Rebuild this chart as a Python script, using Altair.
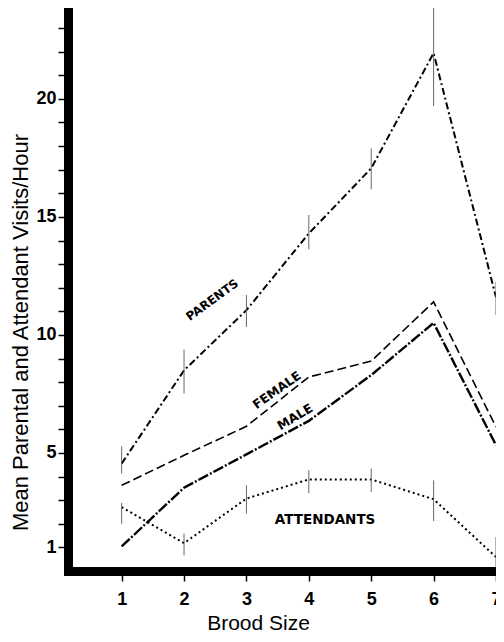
import altair as alt
import pandas as pd

brood = [1, 2, 3, 4, 5, 6, 7]
parents = [4.55, 8.5, 11.05, 14.3, 17.06, 21.94, 11.6]
parents_lo = [4.13, 7.52, 10.34, 13.63, 16.17, 19.7, 10.84]
parents_hi = [5.28, 9.38, 11.69, 15.08, 17.9, 23.85, 12.25]
female = [3.63, 4.9, 6.13, 8.22, 8.89, 11.4, 6.1]
male = [1.04, 3.53, 4.94, 6.36, 8.3, 10.51, 5.33]
attendants = [2.71, 1.18, 3.07, 3.88, 3.88, 3.04, 0.59]
attendants_lo = [2.0, 0.66, 2.43, 3.3, 3.35, 2.12, 0.17]
attendants_hi = [2.88, 1.58, 3.63, 4.27, 4.34, 3.84, 1.44]

label_text = ["PARENTS", "FEMALE", "MALE", "ATTENDANTS"]
label_x = [2.45, 3.49, 3.78, 4.26]
label_y = [11.48, 7.66, 6.52, 2.15]
label_angle = [324, 325, 329, 0]
label_size = [12, 12.5, 12.5, 13.5]

y_ticks = list(range(1, 24))
x_ticks = brood

series = {
    "PARENTS": (parents, [7, 3, 2, 3], 2.0),
    "FEMALE": (female, [9, 4], 1.6),
    "MALE": (male, [11, 2, 2, 2], 2.4),
    "ATTENDANTS": (attendants, [2, 3], 2.0),
}

x_axis = alt.Axis(
    values=x_ticks, title="Brood Size", grid=False, domainColor="black",
    domainWidth=9, domainCap="square", tickColor="black", tickSize=10, tickWidth=1.5,
    labelFont="Liberation Sans", labelFontSize=18, labelFontWeight="bold",
    labelColor="black", labelPadding=9, labelFlush=False, labelOverlap=False,
    titleFont="Liberation Sans", titleFontSize=21, titleFontWeight="normal",
    titleColor="black", titleX=190, titleY=58, titleAlign="center",
    titleBaseline="alphabetic",
)
y_axis = alt.Axis(
    values=y_ticks, title="Mean Parental and Attendant Visits/Hour", grid=False,
    domainColor="black", domainWidth=9, domainCap="square", tickColor="black",
    tickSize=10, tickWidth=1.5,
    labelExpr="indexof([1,5,10,15,20], datum.value) >= 0 ? datum.label : ''",
    labelFont="Liberation Sans", labelFontSize=18, labelFontWeight="bold",
    labelColor="black", labelPadding=2, labelFlush=False, labelOverlap=False,
    titleFont="Liberation Sans", titleFontSize=22, titleFontWeight="normal",
    titleColor="black", titleX=-41, titleY=324, titleAlign="center",
    titleBaseline="alphabetic",
)
x_scale = alt.Scale(domain=[0.14, 7], nice=False, zero=False)
y_scale = alt.Scale(domain=[0, 23.85], nice=False, zero=False)

layers = []
for name, (vals, dash, sw) in series.items():
    d = pd.DataFrame({"brood": brood, "value": vals})
    layers.append(
        alt.Chart(d).mark_line(color="black", strokeDash=dash, strokeWidth=sw, clip=True)
        .encode(x=alt.X("brood:Q", scale=x_scale, axis=x_axis),
                y=alt.Y("value:Q", scale=y_scale, axis=y_axis))
    )

err = pd.DataFrame({
    "brood": brood + brood,
    "lo": parents_lo + attendants_lo,
    "hi": parents_hi + attendants_hi,
})
layers.append(
    alt.Chart(err).mark_rule(color="#666666", strokeWidth=1)
    .encode(x=alt.X("brood:Q", scale=x_scale, axis=x_axis),
            y=alt.Y("lo:Q", scale=y_scale, axis=y_axis), y2="hi:Q")
)

for t, lx, ly, la, ls in zip(label_text, label_x, label_y, label_angle, label_size):
    d = pd.DataFrame({"brood": [lx], "value": [ly], "text": [t]})
    layers.append(
        alt.Chart(d).mark_text(font="DejaVu Sans", fontWeight="bold", fontSize=ls,
                               angle=la, color="black", align="center", baseline="middle")
        .encode(x=alt.X("brood:Q", scale=x_scale, axis=x_axis),
                y=alt.Y("value:Q", scale=y_scale, axis=y_axis), text="text:N")
    )

chart = alt.layer(*layers).properties(
    width=428, height=563,
    autosize=alt.AutoSizeParams(type="none"),
    padding={"left": 60, "top": 0, "right": 0, "bottom": 63},
    background="white",
).configure_view(stroke=None)

chart.save("out.html", embed_options={"renderer": "svg", "actions": False})
